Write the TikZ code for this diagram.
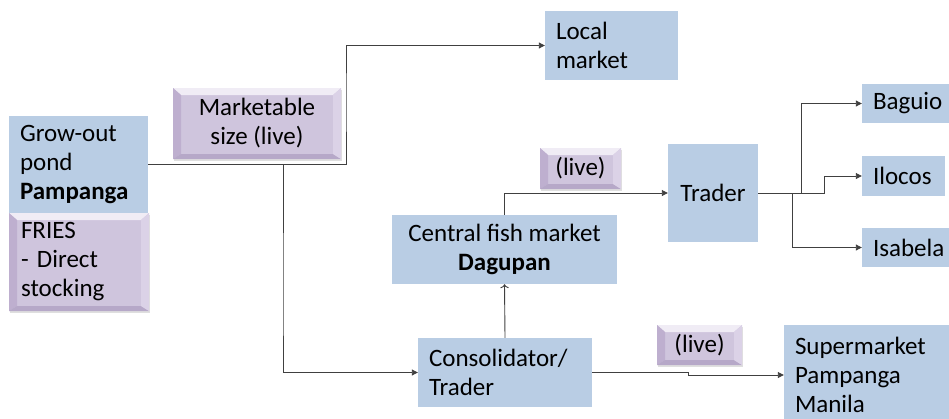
\documentclass[tikz,border=0pt]{standalone}
\usepackage{fontspec}
\setmainfont{Carlito}
\usetikzlibrary{arrows.meta,shadows}

\definecolor{boxblue}{RGB}{185,205,228}
\definecolor{tagpurple}{RGB}{207,197,221}
\definecolor{taglight}{RGB}{240,236,245}
\definecolor{tagleft}{RGB}{190,175,207}
\definecolor{tagright}{RGB}{219,210,231}
\definecolor{tagshade}{RGB}{182,168,200}
\definecolor{flowgray}{RGB}{64,64,64}

\begin{document}
\begin{tikzpicture}[
        x=1pt,
        y=-1pt,
        every node/.style={
            font=\fontsize{25}{29}\selectfont
        },
        box/.style={
            fill=boxblue,
            inner xsep=11pt,
            inner ysep=0pt,
            align=left
        },
        tag/.style={
            fill=tagpurple,
            inner sep=0pt,
            align=center,
            drop shadow={shadow xshift=1pt, shadow yshift=-2pt, opacity=0.25},
            path picture={
                \fill[taglight] (path picture bounding box.north west)
                    -- (path picture bounding box.north east)
                    -- ([shift={(-8pt,-7pt)}]path picture bounding box.north east)
                    -- ([shift={(8pt,-7pt)}]path picture bounding box.north west) -- cycle;
                \fill[tagleft] (path picture bounding box.north west)
                    -- (path picture bounding box.south west)
                    -- ([shift={(8pt,5pt)}]path picture bounding box.south west)
                    -- ([shift={(8pt,-7pt)}]path picture bounding box.north west) -- cycle;
                \fill[tagshade] (path picture bounding box.south west)
                    -- (path picture bounding box.south east)
                    -- ([shift={(-8pt,5pt)}]path picture bounding box.south east)
                    -- ([shift={(8pt,5pt)}]path picture bounding box.south west) -- cycle;
                \fill[tagright] (path picture bounding box.north east)
                    -- (path picture bounding box.south east)
                    -- ([shift={(-8pt,5pt)}]path picture bounding box.south east)
                    -- ([shift={(-8pt,-7pt)}]path picture bounding box.north east) -- cycle;
            }
        },
        flow/.style={
            draw=flowgray,
            line width=0.9pt,
            -{Triangle[length=6pt,width=6pt]}
        }
    ]

    \useasboundingbox (0,0) rectangle (949,418);
    \clip (0,0) rectangle (949,418);

    % Pond and its input
    \node[box, text width=117pt, minimum height=97pt] (pond) at (78.5,164.5) {Grow-out\\pond\\\textbf{Pampanga}};
    \node[tag, align=left, inner xsep=12pt, text width=116pt, minimum height=98pt] (fries) at (79,262) {FRIES\\- Direct\\stocking};

    % Purple labels
    \node[tag, minimum width=168pt, minimum height=71pt] (sizelive) at (257,123.5) {Marketable\\size (live)};
    \node[tag, minimum width=81pt, minimum height=41pt] (liveup) at (580.5,168.5) {(live)};
    \node[tag, minimum width=85pt, minimum height=40pt] (livedown) at (699.5,345) {(live)};

    % Markets and traders
    \node[box, text width=111pt, minimum height=69pt] (local) at (611.5,45.5) {Local\\market};
    \node[box, align=center, minimum width=225pt, minimum height=69pt] (central) at (504.5,249.5) {Central fish market\\\textbf{Dagupan}};
    \node[box, align=center, minimum width=90pt, minimum height=98pt] (trader) at (713,193) {Trader};
    \node[box, text width=152pt, minimum height=69pt] (cons) at (505,372.5) {Consolidator/\\Trader};
    \node[box, text width=154pt, minimum height=100pt] (super) at (872,375) {Supermarket\\Pampanga\\Manila};

    % Destinations
    \node[box, text width=74pt, minimum height=39pt] (baguio) at (910,103.5) {Baguio};
    \node[box, text width=61pt, minimum height=40pt] (ilocos) at (903.5,176) {Ilocos};
    \node[box, text width=74pt, minimum height=39pt] (isabela) at (910,247.5) {Isabela};

    % Bends of the connectors
    \coordinate (upjog) at (346,100);
    \coordinate (downjog) at (283,300);
    \coordinate (jogB) at (801,150);
    \coordinate (jogI) at (824,185);
    \coordinate (jogS) at (792,220);
    \coordinate (jogM) at (688,373.5);

    % Connectors
    \draw[flow] (pond.east) -| (upjog) |- (local.west);
    \draw[flow] (pond.east) -| (downjog) |- (cons.west);
    \draw[flow, -{To[length=4pt]}] (cons.north) -- (central.south);
    \draw[flow] (central.north) |- (trader.west);
    \draw[flow] (trader.east) -| (jogB) |- (baguio.west);
    \draw[flow] (trader.east) -| (jogI) |- (ilocos.west);
    \draw[flow] (trader.east) -| (jogS) |- (isabela.west);
    \draw[flow] (cons.east) -| (jogM) |- (super.west);

\end{tikzpicture}
\end{document}
